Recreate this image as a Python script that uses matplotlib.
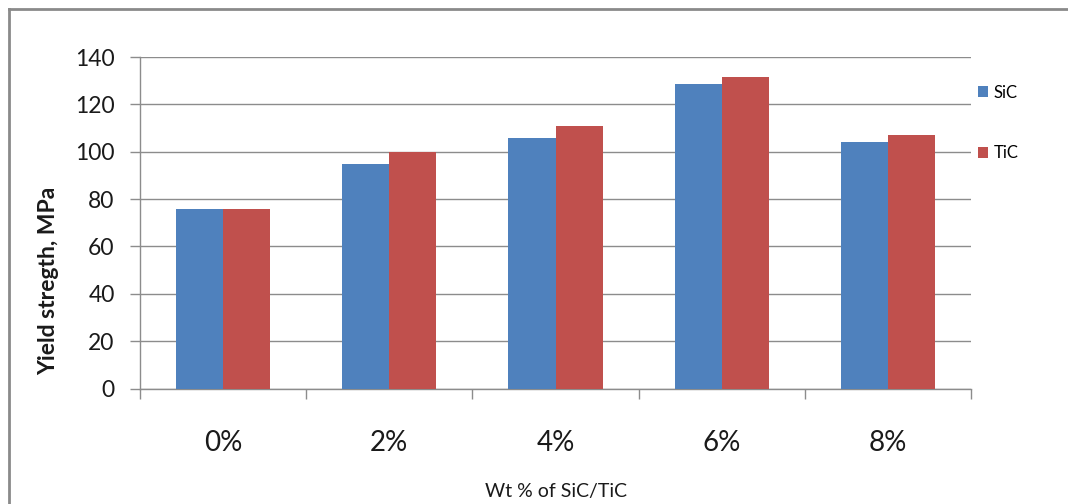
import matplotlib
matplotlib.use("Agg")
import matplotlib.pyplot as plt
import numpy as np
from matplotlib.lines import Line2D

plt.rcParams['font.family'] = ['Lato', 'DejaVu Sans']

categories = ['0%', '2%', '4%', '6%', '8%']
sic = [76, 95, 106, 128.5, 104]
tic = [76, 100, 111, 131.5, 107]
yticks = [0, 20, 40, 60, 80, 100, 120, 140]

W, H = 1068, 504
fig = plt.figure(figsize=(W / 100, H / 100), dpi=100)
ax = fig.add_axes([140 / W, 1 - 388.5 / H, (971 - 140) / W, (388.5 - 57) / H])

x = np.arange(len(categories))
bw = 0.283
ax.bar(x - bw / 2, sic, bw, color='#4F81BD', label='SiC', zorder=3)
ax.bar(x + bw / 2, tic, bw, color='#C0504D', label='TiC', zorder=3)

ax.set_xlim(-0.5, len(categories) - 0.5)
ax.set_ylim(0, 140)
ax.set_yticks(yticks)
ax.yaxis.grid(True, color='#8c8c8c', lw=1, zorder=0)
ax.set_axisbelow(True)

for s in ['top', 'right']:
    ax.spines[s].set_visible(False)
for s in ['left', 'bottom']:
    ax.spines[s].set_color('#8c8c8c')
    ax.spines[s].set_linewidth(1)

ax.tick_params(axis='y', length=7.2, width=1, color='#8c8c8c', pad=11,
               labelsize=16.5, labelcolor='#1a1a1a')
ax.set_xticks(x)
ax.set_xticklabels(categories)
ax.tick_params(axis='x', which='major', length=0, pad=30, labelsize=20,
               labelcolor='#1a1a1a')
ax.set_xticks(np.arange(len(categories) + 1) - 0.5, minor=True)
ax.tick_params(axis='x', which='minor', length=7.2, width=1, color='#8c8c8c')

fig.text(556 / W, 1 - 492 / H, 'Wt % of SiC/TiC', ha='center', va='center',
         fontsize=14, color='#1a1a1a')
fig.text(49 / W, 1 - 281 / H, 'Yield stregth, MPa', ha='center', va='center',
         rotation=90, fontsize=16.5, fontweight='bold', color='#1a1a1a')

leg = ax.legend(loc='center left', bbox_to_anchor=(978 / W, 1 - 123 / H),
                bbox_transform=fig.transFigure, frameon=False, fontsize=12,
                handlelength=0.6, handleheight=0.6, handletextpad=0.35,
                labelspacing=2.7, borderpad=0, borderaxespad=0)

fig.add_artist(Line2D([9 / W, 1], [1 - 9 / H, 1 - 9 / H], color='#8a8a8a', lw=2,
                      transform=fig.transFigure))
fig.add_artist(Line2D([9 / W, 9 / W], [0, 1 - 9 / H], color='#8a8a8a', lw=2,
                      transform=fig.transFigure))

fig.savefig('out.png', dpi=100, facecolor='white')
